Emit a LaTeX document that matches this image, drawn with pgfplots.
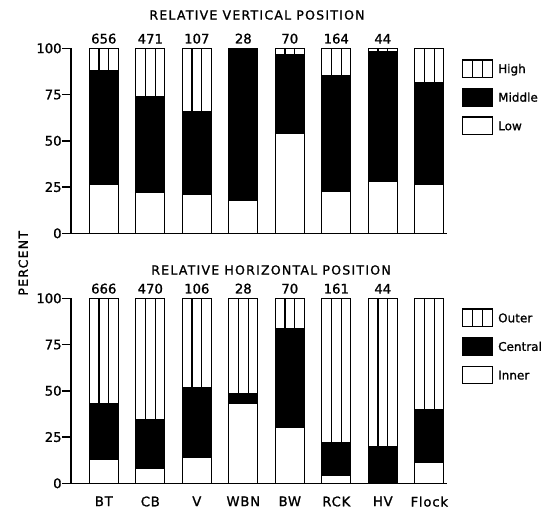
\documentclass[border=0pt]{standalone}
\usepackage{fontspec}
\setmainfont{DejaVu Sans}[FakeBold=1.2]
\newfontfamily\plain[FakeBold=1.2]{DejaVu Sans}
\newfontfamily\spaced[LetterSpace=10,FakeBold=1.2]{DejaVu Sans}
\newfontfamily\lspaced[LetterSpace=6,FakeBold=1.2]{DejaVu Sans}
\usepackage{pgfplots}
\pgfplotsset{compat=1.18}
\newcommand\fs{\fontsize{13.2bp}{15bp}\selectfont}
\newcommand\ft{\fontsize{12.5bp}{15bp}\selectfont}
\newcommand\fl{\fontsize{12bp}{14bp}\selectfont}

\pgfplotsset{
  panel/.style={
    scale only axis, width=376.4bp, height=185bp,
    anchor=south west,
    xmin=-0.71, xmax=7.385, ymin=0, ymax=100,
    axis lines*=left, axis line style={line width=1.6bp, -},
    ytick={0,25,50,75,100},
    tick align=outside, major tick length=9bp,
    ytick style={line width=1.6bp, black},
    xtick style={draw=none},
    /pgf/number format/assume math mode=true,
    tick label style={font=\plain\fs},
    yticklabel style={inner sep=0pt},
    ybar, bar width=0.624,
    clip=false,
    unbounded coords=jump,
    legend cell align=left,
    legend style={anchor=north west, draw=none, fill=none, inner sep=0pt,
      row sep=9.8bp, column sep=5bp, font=\plain\fl,
      nodes={inner sep=0pt, anchor=west, text height=8.8bp, text depth=0pt}},
  },
  toppart/.style={fill=white, draw=black, line width=1.3bp, bar shift=0pt,
    legend image code/.code={
      \draw[line width=1.3bp, fill=white] (0bp,-8.75bp) rectangle (30bp,8.75bp);
      \draw[line width=1.3bp] (10bp,-8.75bp) -- (10bp,8.75bp) (20bp,-8.75bp) -- (20bp,8.75bp);}},
  midpart/.style={fill=black, draw=black, line width=1.3bp, bar shift=0pt,
    legend image code/.code={
      \draw[line width=1.3bp, fill=black] (0bp,-8.75bp) rectangle (30bp,8.75bp);}},
  lowpart/.style={fill=white, draw=black, line width=1.3bp, bar shift=0pt,
    legend image code/.code={
      \draw[line width=1.3bp, fill=white] (0bp,-8.75bp) rectangle (30bp,8.75bp);}},
  divider/.style={sharp plot, forget plot, black, line width=1.2bp},
  counts/.style={nodes near coords, point meta=explicit symbolic,
    every node near coord/.append style={font=\plain\fs, inner sep=0pt, anchor=south, yshift=4bp, black}},
}

\begin{document}
\begin{tikzpicture}
\path[use as bounding box] (0,0) rectangle (541bp,-510bp);

% ---------- Relative vertical position ----------
\begin{axis}[panel, at={(70.8bp,-233.3bp)}, xtick=\empty,
  legend style={at={(1.0385,0.942)}}]
\addplot[toppart, counts] coordinates {
  (0,100)[656] (1,100)[471] (2,100)[107] (3,100)[28]
  (4,100)[70] (5,100)[164] (6,100)[44] (7,100)[]};
\addplot[midpart] coordinates {
  (0,87.7) (1,73.8) (2,66.0) (3,100) (4,96.4) (5,85.0) (6,98.2) (7,81.4)};
\addplot[lowpart] coordinates {
  (0,26.6) (1,22.3) (2,21.0) (3,17.6) (4,54.0) (5,22.9) (6,27.9) (7,26.6)};
\addplot[divider] coordinates {
  (-0.104,87.7) (-0.104,100) (0,nan) (0.104,87.7) (0.104,100) (0,nan)
  (0.896,73.8) (0.896,100) (0,nan) (1.104,73.8) (1.104,100) (0,nan)
  (1.896,66.0) (1.896,100) (0,nan) (2.104,66.0) (2.104,100) (0,nan)
  (3.896,96.4) (3.896,100) (0,nan) (4.104,96.4) (4.104,100) (0,nan)
  (4.896,85.0) (4.896,100) (0,nan) (5.104,85.0) (5.104,100) (0,nan)
  (5.896,98.2) (5.896,100) (0,nan) (6.104,98.2) (6.104,100) (0,nan)
  (6.896,81.4) (6.896,100) (0,nan) (7.104,81.4) (7.104,100)};
\legend{High, Middle, Low}
\end{axis}

% ---------- Relative horizontal position ----------
\begin{axis}[panel, at={(70.8bp,-483.3bp)},
  xtick={0,...,7}, xticklabels={BT,CB,V,WBN,BW,RCK,HV,Flock},
  xticklabel style={font=\lspaced\fs, inner sep=0pt, anchor=north, yshift=-4bp},
  legend style={at={(1.0385,0.946)}}]
\addplot[toppart, counts] coordinates {
  (0,100)[666] (1,100)[470] (2,100)[106] (3,100)[28]
  (4,100)[70] (5,100)[161] (6,100)[44] (7,100)[]};
\addplot[midpart] coordinates {
  (0,42.9) (1,34.2) (2,51.7) (3,48.6) (4,83.4) (5,22.2) (6,19.8) (7,39.6)};
\addplot[lowpart] coordinates {
  (0,13.1) (1,8.1) (2,13.9) (3,43.2) (4,30.1) (5,4.1) (6,0) (7,11.4)};
\addplot[divider] coordinates {
  (-0.104,42.9) (-0.104,100) (0,nan) (0.104,42.9) (0.104,100) (0,nan)
  (0.896,34.2) (0.896,100) (0,nan) (1.104,34.2) (1.104,100) (0,nan)
  (1.896,51.7) (1.896,100) (0,nan) (2.104,51.7) (2.104,100) (0,nan)
  (2.896,48.6) (2.896,100) (0,nan) (3.104,48.6) (3.104,100) (0,nan)
  (3.896,83.4) (3.896,100) (0,nan) (4.104,83.4) (4.104,100) (0,nan)
  (4.896,22.2) (4.896,100) (0,nan) (5.104,22.2) (5.104,100) (0,nan)
  (5.896,19.8) (5.896,100) (0,nan) (6.104,19.8) (6.104,100) (0,nan)
  (6.896,39.6) (6.896,100) (0,nan) (7.104,39.6) (7.104,100)};
\legend{Outer, Central, Inner}
\end{axis}

\node[font=\spaced\ft, inner sep=0pt] at (257bp,-15bp) {RELATIVE VERTICAL POSITION};
\node[font=\spaced\ft, inner sep=0pt] at (271bp,-270bp) {RELATIVE HORIZONTAL POSITION};
\node[font=\spaced\ft, inner sep=0pt, rotate=90] at (23.3bp,-263.3bp) {PERCENT};
\end{tikzpicture}
\end{document}
